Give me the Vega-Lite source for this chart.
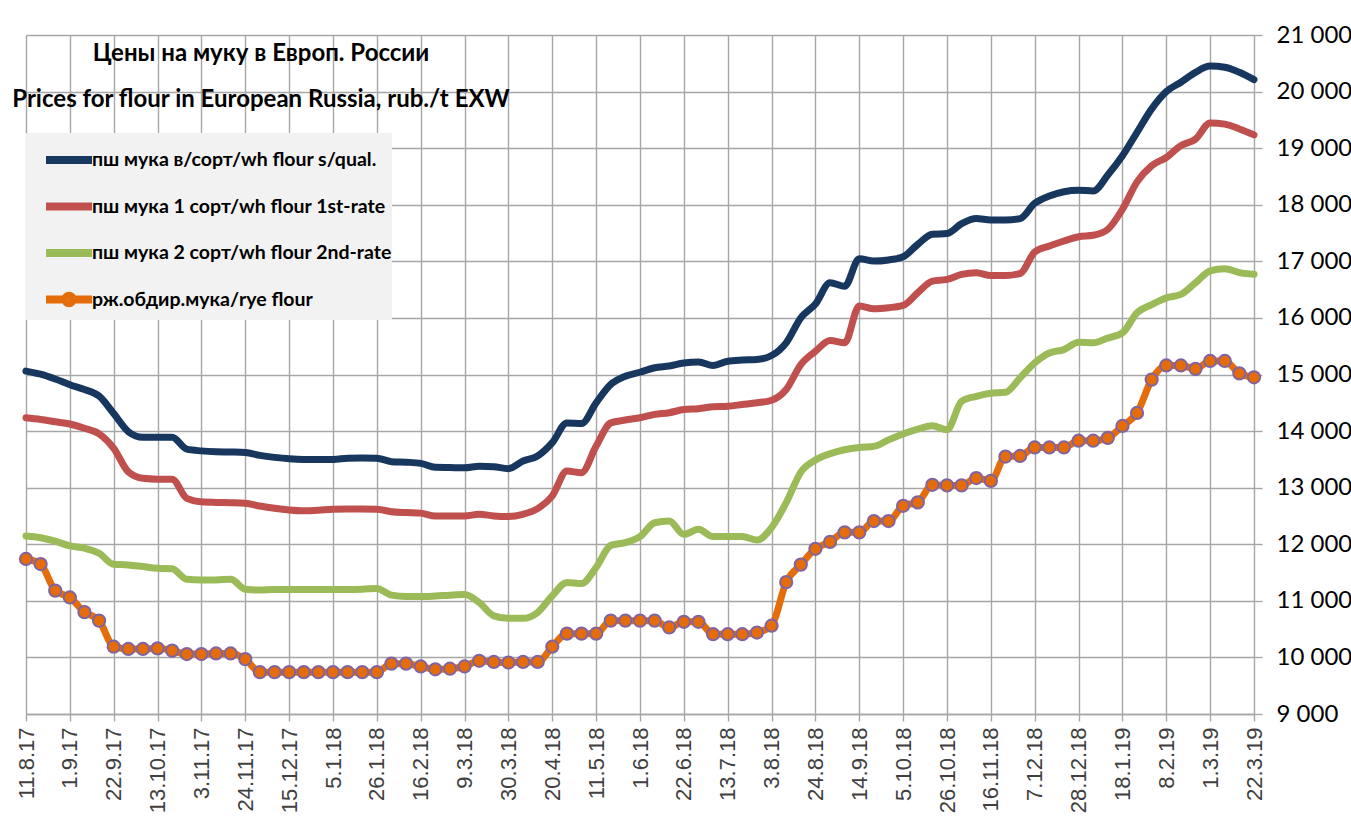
{
  "$schema": "https://vega.github.io/schema/vega-lite/v6.json",
  "autosize": {"type": "none"},
  "width": 1228,
  "height": 679,
  "padding": {"left": 26, "top": 35, "right": 97, "bottom": 119},
  "background": "#ffffff",
  "title": {
    "text": ["Цены на муку в Европ. России", "Prices for flour in European Russia, rub./t EXW"],
    "anchor": "start",
    "align": "center",
    "frame": "group",
    "dx": 235,
    "dy": 89,
    "offset": 0,
    "baseline": "top",
    "lineHeight": 46,
    "font": "Lato",
    "fontSize": 24,
    "fontWeight": "bold",
    "color": "#000000"
  },
  "data": {
    "values": [
      {"d": "11.8.17", "a": 15060, "b": 14235, "c": 12145, "r": 11740},
      {"d": "18.8.17", "a": 15005, "b": 14205, "c": 12115, "r": 11650},
      {"d": "25.8.17", "a": 14920, "b": 14165, "c": 12055, "r": 11180},
      {"d": "1.9.17", "a": 14820, "b": 14125, "c": 11970, "r": 11060},
      {"d": "8.9.17", "a": 14735, "b": 14050, "c": 11930, "r": 10800},
      {"d": "15.9.17", "a": 14620, "b": 13950, "c": 11840, "r": 10650},
      {"d": "22.9.17", "a": 14310, "b": 13695, "c": 11645, "r": 10190},
      {"d": "29.9.17", "a": 13990, "b": 13280, "c": 11635, "r": 10150},
      {"d": "6.10.17", "a": 13890, "b": 13165, "c": 11605, "r": 10150},
      {"d": "13.10.17", "a": 13890, "b": 13150, "c": 11575, "r": 10160},
      {"d": "20.10.17", "a": 13890, "b": 13150, "c": 11565, "r": 10120},
      {"d": "27.10.17", "a": 13680, "b": 12810, "c": 11380, "r": 10060},
      {"d": "3.11.17", "a": 13650, "b": 12750, "c": 11370, "r": 10060},
      {"d": "10.11.17", "a": 13635, "b": 12740, "c": 11370, "r": 10070},
      {"d": "17.11.17", "a": 13630, "b": 12735, "c": 11380, "r": 10070},
      {"d": "24.11.17", "a": 13620, "b": 12725, "c": 11205, "r": 9970},
      {"d": "1.12.17", "a": 13570, "b": 12675, "c": 11190, "r": 9740},
      {"d": "8.12.17", "a": 13535, "b": 12635, "c": 11200, "r": 9740},
      {"d": "15.12.17", "a": 13510, "b": 12605, "c": 11200, "r": 9740},
      {"d": "22.12.17", "a": 13500, "b": 12590, "c": 11200, "r": 9740},
      {"d": "29.12.17", "a": 13500, "b": 12600, "c": 11200, "r": 9740},
      {"d": "5.1.18", "a": 13500, "b": 12620, "c": 11200, "r": 9740},
      {"d": "12.1.18", "a": 13520, "b": 12625, "c": 11200, "r": 9740},
      {"d": "19.1.18", "a": 13525, "b": 12625, "c": 11205, "r": 9740},
      {"d": "26.1.18", "a": 13520, "b": 12620, "c": 11220, "r": 9740},
      {"d": "2.2.18", "a": 13460, "b": 12575, "c": 11100, "r": 9890},
      {"d": "9.2.18", "a": 13450, "b": 12560, "c": 11075, "r": 9890},
      {"d": "16.2.18", "a": 13430, "b": 12550, "c": 11075, "r": 9840},
      {"d": "23.2.18", "a": 13360, "b": 12500, "c": 11085, "r": 9790},
      {"d": "2.3.18", "a": 13355, "b": 12500, "c": 11100, "r": 9800},
      {"d": "9.3.18", "a": 13350, "b": 12500, "c": 11110, "r": 9840},
      {"d": "16.3.18", "a": 13380, "b": 12530, "c": 10970, "r": 9940},
      {"d": "23.3.18", "a": 13370, "b": 12500, "c": 10735, "r": 9920},
      {"d": "30.3.18", "a": 13335, "b": 12490, "c": 10690, "r": 9910},
      {"d": "6.4.18", "a": 13470, "b": 12530, "c": 10690, "r": 9920},
      {"d": "13.4.18", "a": 13560, "b": 12630, "c": 10795, "r": 9920},
      {"d": "20.4.18", "a": 13795, "b": 12855, "c": 11090, "r": 10190},
      {"d": "27.4.18", "a": 14145, "b": 13295, "c": 11325, "r": 10420},
      {"d": "4.5.18", "a": 14135, "b": 13265, "c": 11305, "r": 10420},
      {"d": "11.5.18", "a": 14500, "b": 13735, "c": 11590, "r": 10420},
      {"d": "18.5.18", "a": 14825, "b": 14145, "c": 11980, "r": 10650},
      {"d": "25.5.18", "a": 14970, "b": 14195, "c": 12030, "r": 10650},
      {"d": "1.6.18", "a": 15040, "b": 14235, "c": 12135, "r": 10650},
      {"d": "8.6.18", "a": 15120, "b": 14295, "c": 12380, "r": 10650},
      {"d": "15.6.18", "a": 15150, "b": 14325, "c": 12410, "r": 10530},
      {"d": "22.6.18", "a": 15205, "b": 14380, "c": 12175, "r": 10630},
      {"d": "29.6.18", "a": 15220, "b": 14395, "c": 12265, "r": 10630},
      {"d": "6.7.18", "a": 15160, "b": 14430, "c": 12135, "r": 10410},
      {"d": "13.7.18", "a": 15235, "b": 14440, "c": 12135, "r": 10410},
      {"d": "20.7.18", "a": 15255, "b": 14470, "c": 12135, "r": 10410},
      {"d": "27.7.18", "a": 15265, "b": 14500, "c": 12075, "r": 10440},
      {"d": "3.8.18", "a": 15335, "b": 14545, "c": 12295, "r": 10560},
      {"d": "10.8.18", "a": 15560, "b": 14735, "c": 12735, "r": 11330},
      {"d": "17.8.18", "a": 16000, "b": 15175, "c": 13275, "r": 11640},
      {"d": "24.8.18", "a": 16245, "b": 15410, "c": 13490, "r": 11920},
      {"d": "31.8.18", "a": 16620, "b": 15600, "c": 13600, "r": 12040},
      {"d": "7.9.18", "a": 16560, "b": 15560, "c": 13670, "r": 12210},
      {"d": "14.9.18", "a": 17045, "b": 16210, "c": 13710, "r": 12210},
      {"d": "21.9.18", "a": 17005, "b": 16160, "c": 13730, "r": 12410},
      {"d": "28.9.18", "a": 17025, "b": 16180, "c": 13845, "r": 12410},
      {"d": "5.10.18", "a": 17080, "b": 16220, "c": 13950, "r": 12680},
      {"d": "12.10.18", "a": 17300, "b": 16445, "c": 14035, "r": 12740},
      {"d": "19.10.18", "a": 17480, "b": 16650, "c": 14095, "r": 13050},
      {"d": "26.10.18", "a": 17490, "b": 16680, "c": 14025, "r": 13040},
      {"d": "2.11.18", "a": 17665, "b": 16770, "c": 14525, "r": 13040},
      {"d": "9.11.18", "a": 17755, "b": 16800, "c": 14615, "r": 13170},
      {"d": "16.11.18", "a": 17730, "b": 16750, "c": 14670, "r": 13120},
      {"d": "23.11.18", "a": 17730, "b": 16750, "c": 14685, "r": 13550},
      {"d": "30.11.18", "a": 17755, "b": 16785, "c": 14940, "r": 13560},
      {"d": "7.12.18", "a": 18025, "b": 17165, "c": 15205, "r": 13710},
      {"d": "14.12.18", "a": 18155, "b": 17270, "c": 15380, "r": 13710},
      {"d": "21.12.18", "a": 18230, "b": 17360, "c": 15440, "r": 13710},
      {"d": "28.12.18", "a": 18255, "b": 17435, "c": 15570, "r": 13830},
      {"d": "4.1.19", "a": 18245, "b": 17460, "c": 15560, "r": 13830},
      {"d": "11.1.19", "a": 18525, "b": 17565, "c": 15645, "r": 13880},
      {"d": "18.1.19", "a": 18865, "b": 17920, "c": 15735, "r": 14090},
      {"d": "25.1.19", "a": 19280, "b": 18405, "c": 16090, "r": 14320},
      {"d": "1.2.19", "a": 19695, "b": 18690, "c": 16235, "r": 14910},
      {"d": "8.2.19", "a": 20000, "b": 18835, "c": 16355, "r": 15160},
      {"d": "15.2.19", "a": 20165, "b": 19045, "c": 16415, "r": 15160},
      {"d": "22.2.19", "a": 20340, "b": 19160, "c": 16620, "r": 15100},
      {"d": "1.3.19", "a": 20450, "b": 19445, "c": 16830, "r": 15240},
      {"d": "8.3.19", "a": 20430, "b": 19425, "c": 16870, "r": 15240},
      {"d": "15.3.19", "a": 20340, "b": 19340, "c": 16800, "r": 15020},
      {"d": "22.3.19", "a": 20210, "b": 19235, "c": 16770, "r": 14950}
    ]
  },
  "transform": [{"fold": ["a", "b", "c", "r"], "as": ["series", "value"]}],
  "encoding": {
    "x": {
      "field": "d",
      "type": "ordinal",
      "sort": null,
      "scale": {"type": "point", "padding": 0},
      "axis": {
        "title": null,
        "values": ["11.8.17", "1.9.17", "22.9.17", "13.10.17", "3.11.17", "24.11.17", "15.12.17", "5.1.18", "26.1.18", "16.2.18", "9.3.18", "30.3.18", "20.4.18", "11.5.18", "1.6.18", "22.6.18", "13.7.18", "3.8.18", "24.8.18", "14.9.18", "5.10.18", "26.10.18", "16.11.18", "7.12.18", "28.12.18", "18.1.19", "8.2.19", "1.3.19", "22.3.19"],
        "labelAngle": -90,
        "labelAlign": "right",
        "labelBaseline": "middle",
        "labelFont": "Liberation Sans",
        "labelFontSize": 22,
        "labelColor": "#404040",
        "labelPadding": 6,
        "tickSize": 7,
        "grid": true,
        "domain": true
      }
    },
    "y": {
      "field": "value",
      "type": "quantitative",
      "scale": {"domain": [9000, 21000], "nice": false, "zero": false},
      "axis": {
        "title": null,
        "orient": "right",
        "values": [9000, 10000, 11000, 12000, 13000, 14000, 15000, 16000, 17000, 18000, 19000, 20000, 21000],
        "labelExpr": "replace(format(datum.value, ','), ',', ' ')",
        "labelFont": "Lato",
        "labelFontSize": 24,
        "labelColor": "#000000",
        "labelPadding": 14,
        "tickSize": 8,
        "grid": true,
        "domain": false
      }
    }
  },
  "layer": [
    {
      "mark": {"type": "line", "interpolate": "monotone", "strokeWidth": 7, "strokeCap": "round", "strokeJoin": "round"},
      "encoding": {
        "color": {
          "field": "series",
          "type": "nominal",
          "scale": {"domain": ["a", "b", "c", "r"], "range": ["#17375e", "#c0504d", "#9bbb59", "#e46c0a"]},
          "legend": {
            "title": null,
            "orient": "none",
            "legendX": -1,
            "legendY": 98,
            "fillColor": "#f2f2f2",
            "padding": 0,
            "symbolType": "stroke",
            "symbolStrokeWidth": 8,
            "symbolSize": 2116,
            "symbolOffset": 17,
            "rowPadding": 3.5,
            "labelOffset": -4,
            "labelLimit": 0,
            "labelFont": "Lato",
            "labelFontSize": 19.5,
            "labelFontWeight": "bold",
            "labelColor": "#000000",
            "labelExpr": "datum.value == 'a' ? 'пш мука в/сорт/wh flour s/qual.' : datum.value == 'b' ? 'пш мука 1 сорт/wh flour 1st-rate' : datum.value == 'c' ? 'пш мука 2 сорт/wh flour 2nd-rate' : 'рж.обдир.мука/rye flour'",
            "encode": {
              "symbols": {
                "update": {
                  "shape": [
                    {"test": "datum.value === 'r'", "value": "M-1,0H-0.16M0.16,0H1M0.16,0A0.16,0.16 0 1,1 -0.16,0A0.16,0.16 0 1,1 0.16,0"},
                    {"value": "stroke"}
                  ]
                }
              }
            }
          }
        }
      }
    },
    {
      "transform": [{"filter": "datum.series == 'r'"}],
      "mark": {"type": "point", "filled": true, "fill": "#e46c0a", "stroke": "#8064a2", "strokeWidth": 2, "size": 150, "opacity": 1}
    }
  ],
  "config": {
    "view": {"stroke": null},
    "axis": {"gridColor": "#a6a6a6", "gridWidth": 1.4, "domainColor": "#a6a6a6", "tickColor": "#a6a6a6", "domainWidth": 1.4, "tickWidth": 1.4}
  }
}
